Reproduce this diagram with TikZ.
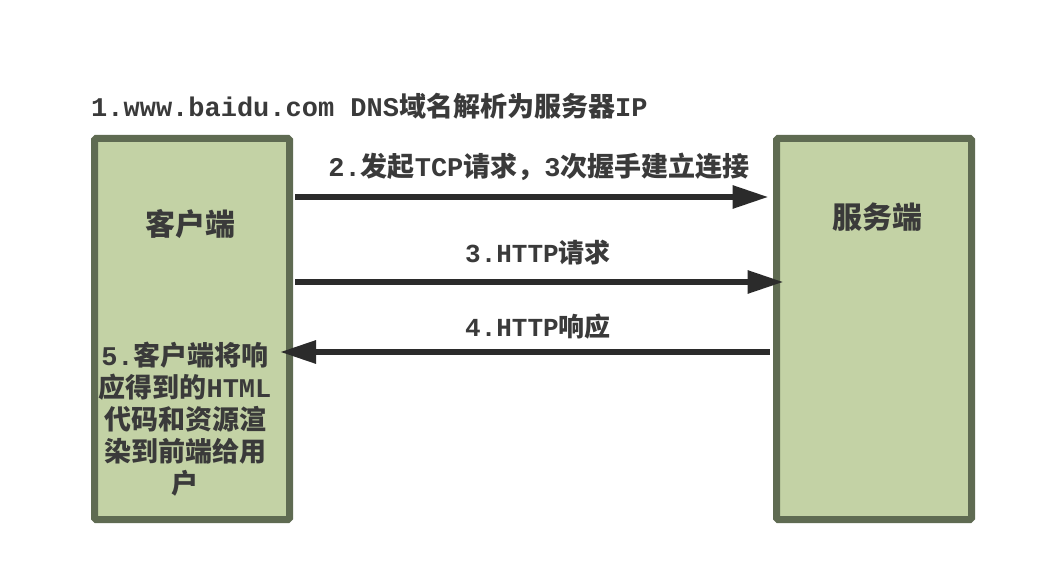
\documentclass[tikz,border=0pt]{standalone}
\usepackage{fontspec}
\setmainfont{Noto Sans CJK SC}
\newfontfamily\latm{Liberation Mono}
\usetikzlibrary{arrows.meta}
\definecolor{boxfill}{HTML}{C3D2A5}
\definecolor{boxline}{HTML}{5F6B52}
\definecolor{arrowcol}{HTML}{2B2B2B}
\definecolor{txt}{HTML}{3A3A3A}
\begin{document}
\begin{tikzpicture}[x=1pt,y=-1pt,
  box/.style={draw=boxline,fill=boxfill,line width=7pt,minimum width=195pt,minimum height=381pt,inner sep=0pt,rounded corners=1.5pt},
  arr/.style={draw=arrowcol,line width=6pt,-{Triangle[length=36pt,width=22pt]}},
  lbl/.style={text=txt,inner sep=0pt,font=\fontsize{26pt}{30pt}\selectfont\bfseries},
  toplbl/.style={text=txt,inner sep=0pt,font=\fontsize{27pt}{30pt}\selectfont\bfseries},
  boxlbl/.style={text=txt,inner sep=0pt,font=\fontsize{30pt}{34pt}\selectfont\bfseries},
  boxtxt/.style={text=txt,inner sep=0pt,align=center,font=\fontsize{27pt}{32pt}\selectfont\bfseries}]
\useasboundingbox[fill=white] (0,0) rectangle (1052,564);
\node[box] (client) at (192,329) {};
\node[box] (server) at (874,329) {};
\node[toplbl,anchor=west] (dns) at (91,106) {{\latm 1.www.baidu.com DNS}域名解析为服务器{\latm IP}};
\node[boxlbl] (clientlbl) at (190,224) {客户端};
\node[boxlbl] (serverlbl) at (877,217) {服务端};
\node[boxtxt] (render) at (185,419) {{\latm 5.}客户端将响\\应得到的{\latm HTML}\\代码和资源渲\\染到前端给用\\户};
\coordinate (y1) at (0,197);
\coordinate (y2) at (0,282);
\coordinate (y3) at (0,352);
\draw[arr] ([xshift=2pt]client.east |- y1) -- ([xshift=-4.5pt]server.west |- y1);
\draw[arr] ([xshift=2pt]client.east |- y2) -- ([xshift=10.5pt]server.west |- y2);
\draw[arr] ([xshift=-3.5pt]server.west |- y3) -- ([xshift=-13pt]client.east |- y3);
\node[lbl,font=\fontsize{27pt}{30pt}\selectfont\bfseries] (tcp) at (539,167) {{\latm 2.}发起{\latm TCP}请求，{\latm 3}次握手建立连接};
\node[lbl] (req) at (538,253) {{\latm 3.HTTP}请求};
\node[lbl] (resp) at (538,327) {{\latm 4.HTTP}响应};
\end{tikzpicture}
\end{document}
